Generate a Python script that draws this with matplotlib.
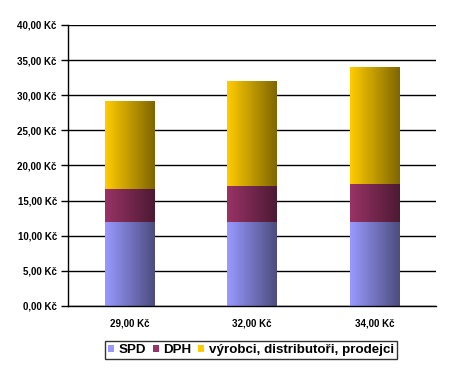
import numpy as np
import matplotlib
matplotlib.use("Agg")
import matplotlib.pyplot as plt
from matplotlib.colors import to_rgb
from matplotlib.patches import Patch

plt.rcParams["font.family"] = ["Liberation Sans", "DejaVu Sans"]
plt.rcParams["font.weight"] = "bold"

categories = ["29,00 Kč", "32,00 Kč", "34,00 Kč"]
spd = [12.0, 12.0, 12.0]
dph = [4.6, 5.1, 5.4]
vyrobci = [12.4, 14.9, 16.6]
series_names = ["SPD", "DPH", "výrobci, distributoři, prodejci"]
colors = ["#9999ff", "#993366", "#ffcc00"]
yticks = [0, 5, 10, 15, 20, 25, 30, 35, 40]

fig = plt.figure(figsize=(4.52, 3.81), dpi=100)
ax = fig.add_axes([0.1504, 0.1969, 0.8142, 0.7375])

bar_w = 0.4
x = np.arange(len(categories))


def grad_bar(ax, xc, bottom, height, color):
    c = np.array(to_rgb(color))
    t = np.linspace(0, 1, 64)[:, None]
    # light at left, darker toward the right edge (cylinder look)
    img = c * (1 - 0.5 * t)
    img = img[None, :, :]
    ax.imshow(img, extent=[xc - bar_w / 2, xc + bar_w / 2, bottom, bottom + height],
              aspect="auto", interpolation="bilinear", zorder=3)


for i in range(len(categories)):
    b = 0
    for vals, col in zip([spd, dph, vyrobci], colors):
        grad_bar(ax, x[i], b, vals[i], col)
        b += vals[i]

ax.set_xlim(-0.5, len(categories) - 0.5)
ax.set_ylim(0, 40)
ax.set_yticks(yticks)
ax.set_yticklabels([f"{v},00 Kč" for v in yticks], fontsize=7, fontweight="bold")
ax.set_xticks(x)
ax.set_xticklabels(categories, fontsize=7, fontweight="bold")
ax.tick_params(axis="x", length=0, pad=9)
ax.tick_params(axis="y", length=5, width=1, color="black", pad=3, direction="out")
ax.yaxis.grid(True, color="black", linewidth=1)
ax.set_axisbelow(True)
for s in ["top", "right"]:
    ax.spines[s].set_visible(False)
for s in ["left", "bottom"]:
    ax.spines[s].set_color("black")
    ax.spines[s].set_linewidth(1)
    ax.spines[s].set_zorder(4)

handles = [Patch(facecolor=c, edgecolor="none") for c in colors]
leg = fig.legend(handles, series_names, loc="center", bbox_to_anchor=(0.555, 0.081),
                 ncol=3, fontsize=9.6, frameon=True, fancybox=False,
                 handlelength=0.45, handleheight=0.45, handletextpad=0.35,
                 columnspacing=0.5, borderpad=0.2, borderaxespad=0)
leg.get_frame().set_edgecolor("black")
leg.get_frame().set_linewidth(1)
for t in leg.get_texts():
    t.set_fontweight("bold")

fig.savefig("out.png", dpi=100)
